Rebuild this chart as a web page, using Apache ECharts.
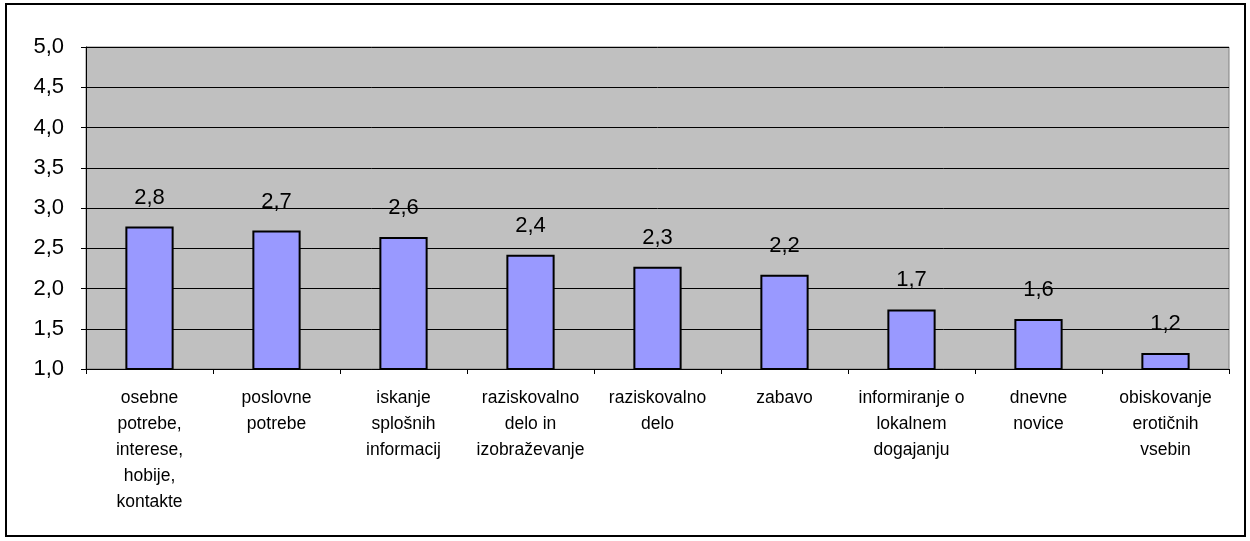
<!DOCTYPE html>
<html>
<head>
<meta charset="utf-8">
<script src="https://cdn.jsdelivr.net/npm/echarts@6/dist/echarts.min.js"></script>
<style>
  html, body { margin: 0; padding: 0; background: #fff; }
  #chart { width: 1250px; height: 541px; }
</style>
</head>
<body>
<div id="chart"></div>
<script>
// Namen uporabe interneta – povprečne ocene
const categories = [
  'osebne\npotrebe,\ninterese,\nhobije,\nkontakte',
  'poslovne\npotrebe',
  'iskanje\nsplošnih\ninformacij',
  'raziskovalno\ndelo in\nizobraževanje',
  'raziskovalno\ndelo',
  'zabavo',
  'informiranje o\nlokalnem\ndogajanju',
  'dnevne\nnovice',
  'obiskovanje\nerotičnih\nvsebin'
];
const values = [2.77, 2.72, 2.64, 2.42, 2.27, 2.17, 1.74, 1.62, 1.2];
const yMin = 1.0;
const yMax = 5.0;
const yStep = 0.5;

const fmt = v => v.toFixed(1).replace('.', ',');
const FONT = 'Liberation Sans, Arial, sans-serif';

const chart = echarts.init(document.getElementById('chart'), null, { renderer: 'canvas' });
chart.setOption({
  animation: false,
  backgroundColor: '#ffffff',
  textStyle: { fontFamily: FONT },
  graphic: [{
    type: 'rect',
    shape: { x: 6, y: 4, width: 1239, height: 532 },
    style: { fill: 'none', stroke: '#000', lineWidth: 2 },
    z: 100
  }],
  grid: {
    left: 86, right: 21, top: 47, bottom: 172,
    show: true,
    backgroundColor: '#C0C0C0',
    borderColor: '#808080',
    borderWidth: 1
  },
  xAxis: {
    type: 'category',
    data: categories,
    axisLine: { show: true, lineStyle: { color: '#000', width: 1 } },
    axisTick: { show: true, alignWithLabel: false, length: 5, lineStyle: { color: '#000' } },
    axisLabel: {
      interval: 0,
      color: '#000',
      fontSize: 17.5,
      lineHeight: 26,
      margin: 16,
      fontFamily: FONT
    }
  },
  yAxis: {
    type: 'value',
    min: yMin,
    max: yMax,
    interval: yStep,
    axisLine: { show: true, lineStyle: { color: '#000', width: 1 } },
    axisTick: { show: true, length: 5, lineStyle: { color: '#000' } },
    splitLine: { show: true, lineStyle: { color: '#000', width: 1 } },
    axisLabel: {
      color: '#000',
      fontSize: 22,
      margin: 22,
      formatter: v => fmt(v),
      fontFamily: FONT
    }
  },
  series: [{
    type: 'bar',
    data: values,
    barWidth: '38%',
    itemStyle: { color: '#9999FF', borderColor: '#000', borderWidth: 2 },
    label: {
      show: true,
      position: 'top',
      distance: 18,
      color: '#000',
      fontSize: 22,
      formatter: p => fmt(p.value),
      fontFamily: FONT
    }
  }]
});
</script>
</body>
</html>
